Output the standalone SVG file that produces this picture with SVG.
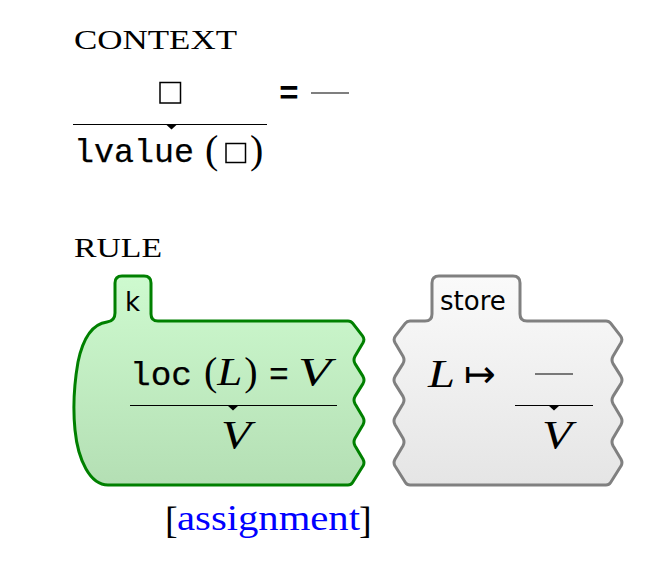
<svg xmlns="http://www.w3.org/2000/svg" width="666" height="582" viewBox="0 0 666 582">
<style>
.head{font-family:"Liberation Serif",serif;font-size:27px;fill:#000}
.tt{font-family:"Liberation Mono",monospace;font-size:33px;fill:#000;stroke:#000;stroke-width:0.25}
.rm{font-family:"Liberation Serif",serif;font-size:40px;fill:#000}
.it{font-family:"Liberation Serif",serif;font-style:italic;font-size:40px;fill:#000}
.sans{font-family:"DejaVu Sans",sans-serif;font-size:26px;fill:#000}
.rule{stroke:#000;stroke-width:1.2;fill:none}
.tri{fill:#000}
.box{fill:none;stroke:#000;stroke-width:1.5}
</style>
<defs>
<linearGradient id="gGreen" x1="0" y1="0" x2="0" y2="1">
<stop offset="0" stop-color="#cefacf"/>
<stop offset="1" stop-color="#b4dfb4"/>
</linearGradient>
<linearGradient id="gGray" x1="0" y1="0" x2="0" y2="1">
<stop offset="0" stop-color="#fafafa"/>
<stop offset="1" stop-color="#e5e5e5"/>
</linearGradient>
</defs>
<g id="context">
<text class="head" x="74" y="49" textLength="163" lengthAdjust="spacingAndGlyphs">CONTEXT</text>
<rect class="box" x="160" y="82.5" width="20.5" height="20.5"/>
<text x="289" y="104" text-anchor="middle" style="font-family:'Liberation Mono',monospace;font-size:33px;font-weight:bold">=</text>
<line class="rule" x1="311" y1="93" x2="349" y2="93"/>
<line class="rule" x1="73" y1="124.5" x2="267" y2="124.5"/>
<polygon class="tri" points="165.5,124 177.5,124 171.5,129.5"/>
<text class="tt" x="74" y="162" textLength="120" lengthAdjust="spacingAndGlyphs">lvalue</text>
<text class="rm" x="205" y="163">(</text>
<rect class="box" x="226" y="143.5" width="19.5" height="19"/>
<text class="rm" x="250" y="163">)</text>
</g>
<g id="rule-title">
<text class="head" x="74" y="257" textLength="88" lengthAdjust="spacingAndGlyphs">RULE</text>
</g>
<g id="node-k">
<path fill="url(#gGreen)" stroke="#008000" stroke-width="3" stroke-linejoin="round" d="M107,322 Q115,321 115,313 L115,283 Q115,276 122,276 L144,276 Q151,276 151,283 L151,314 Q151,321 158,321 L348,321 Q351,321 352.8,323.4 L362.5,335.8 Q365,339 363,342.8 L355,356.2 Q353,360 355,363.6 L363,376.4 Q365,380 363,383.6 L355,396.4 Q353,400 355,403.8 L363,417.2 Q365,421 363,424.8 L355,438.2 Q353,442 355,445.8 L363,459.2 Q365,463 362.8,466.3 L352.6,482.5 Q351,485 348,485 L108,485 C90,485 78,460 75,430 C73,410 74,385 78,362 C83,338 92,324 107,322 Z"/>
<text class="sans" x="125" y="311">k</text>
<text class="tt" x="130" y="385" textLength="62" lengthAdjust="spacingAndGlyphs">loc</text>
<text class="rm" x="204" y="385">(<tspan class="it" dx="0" textLength="25" lengthAdjust="spacingAndGlyphs">L</tspan><tspan dx="2">)</tspan></text>
<text class="tt" x="279" y="385" text-anchor="middle">=</text>
<text class="it" x="298" y="385" textLength="33" lengthAdjust="spacingAndGlyphs">V</text>
<line class="rule" x1="130" y1="405.5" x2="337" y2="405.5"/>
<polygon class="tri" points="227,405 239,405 233,410.5"/>
<text class="it" x="221" y="448" textLength="30" lengthAdjust="spacingAndGlyphs">V</text>
</g>
<g id="node-store">
<path fill="url(#gGray)" stroke="#808080" stroke-width="3" stroke-linejoin="round" d="M410,321 L425,321 Q432,321 432,314 L432,283 Q432,276 439,276 L513,276 Q520,276 520,283 L520,314 Q520,321 527,321 L606,321 Q609,321 610.8,323.4 L620.5,335.8 Q623,339 621,342.8 L613,356.2 Q611,360 613,363.6 L621,376.4 Q623,380 621,383.6 L613,396.4 Q611,400 613,403.8 L621,417.2 Q623,421 621,424.8 L613,438.2 Q611,442 613,445.8 L621,459.2 Q623,463 620.8,466.3 L610.6,482.5 Q609,485 606,485 L410,485 Q407,485 405.4,482.5 L395.2,466.3 Q393,463 395,459.2 L403,445.8 Q405,442 403,438.2 L395,424.8 Q393,421 395,417.2 L403,403.8 Q405,400 403,396.4 L395,383.6 Q393,380 395,376.4 L403,363.6 Q405,360 403,356.2 L395,342.8 Q393,339 395.5,335.8 L405.2,323.4 Q407,321 410,321 Z"/>
<text class="sans" x="440" y="310">store</text>
<text class="it" x="428" y="387" textLength="27" lengthAdjust="spacingAndGlyphs">L</text>
<text x="464" y="387" style="font-family:'DejaVu Sans',sans-serif;font-size:38px">↦</text>
<line class="rule" x1="535" y1="374" x2="573" y2="374"/>
<line class="rule" x1="515" y1="405.5" x2="593" y2="405.5"/>
<polygon class="tri" points="548,405 560,405 554,410.5"/>
<text class="it" x="542" y="448" textLength="30" lengthAdjust="spacingAndGlyphs">V</text>
</g>
<g id="label">
<text class="rm" x="165" y="533" style="font-size:38px">[</text>
<text class="rm" x="177" y="530" style="font-size:36px;fill:#0000ff" textLength="183" lengthAdjust="spacingAndGlyphs">assignment</text>
<text class="rm" x="359" y="533" style="font-size:38px">]</text>
</g>
<g id="connectors"/>
</svg>
